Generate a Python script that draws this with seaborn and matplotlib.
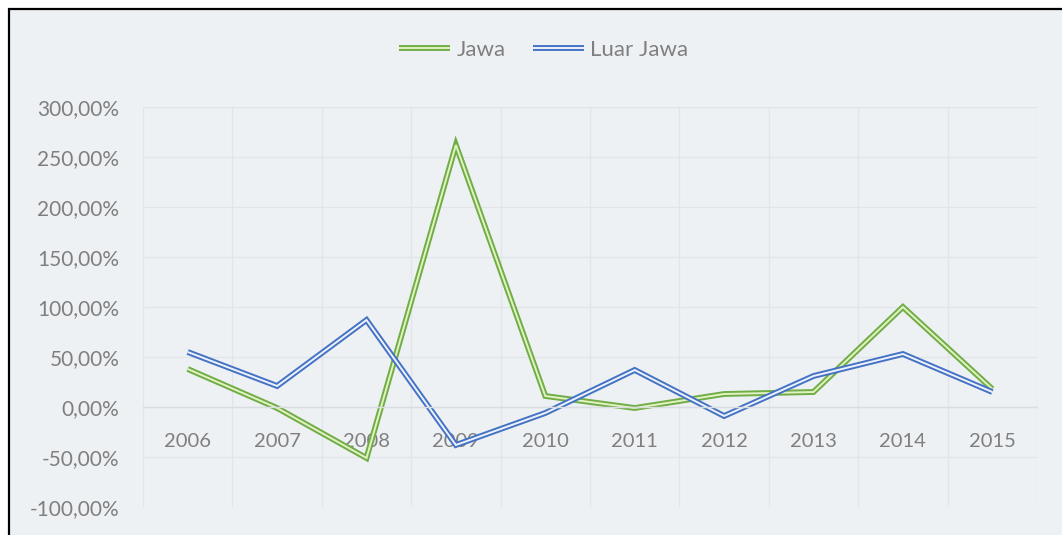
import pandas as pd
import seaborn as sns
import matplotlib.pyplot as plt
import matplotlib.patheffects as pe
from matplotlib.patches import Rectangle
from matplotlib.ticker import FuncFormatter, FixedLocator

years = ['2006', '2007', '2008', '2009', '2010', '2011', '2012', '2013', '2014', '2015']
jawa = [38, -1, -51, 262, 11, -1, 13, 15, 100, 18]
luar_jawa = [55, 21, 87, -38, -6, 37, -9, 31, 53, 15]
series_names = ['Jawa', 'Luar Jawa']

df = pd.DataFrame({
    'year': years * 2,
    'growth': jawa + luar_jawa,
    'region': [series_names[0]] * len(years) + [series_names[1]] * len(years),
})

sns.set_style('white')
plt.rcParams['font.family'] = ['Lato', 'DejaVu Sans']

bg = '#EEF1F4'
grid_c = '#E1E4E8'
text_c = '#7F7F7F'
outer = {'Jawa': '#70AD47', 'Luar Jawa': '#4472C4'}
inner = {'Jawa': '#E2F2C0', 'Luar Jawa': '#EEF2FA'}
lw_out, lw_in = 4.2, 1.4

fig = plt.figure(figsize=(10.62, 5.35), dpi=100, facecolor='white')
fig.patches.append(Rectangle((9 / 1062, -0.05), 1.2, 1 - 9 / 535 + 0.05,
                             transform=fig.transFigure, facecolor=bg,
                             edgecolor='black', linewidth=1.6, zorder=-5))
ax = fig.add_axes([143 / 1062, 1 - 507 / 535, (1037 - 143) / 1062, 400 / 535])
ax.set_facecolor(bg)

sns.lineplot(data=df, x='year', y='growth', hue='region', palette=outer,
             linewidth=lw_out, ax=ax, legend=True, sort=False)

for line, name in zip(ax.get_lines(), series_names):
    line.set_path_effects([pe.Normal(), pe.Stroke(linewidth=lw_in, foreground=inner[name])])
    line.set_solid_joinstyle('miter')
    line.set_solid_capstyle('butt')

ax.set_ylim(-100, 300)
ax.set_xlim(-0.5, len(years) - 0.5)
ax.set_yticks(range(-100, 301, 50))
ax.yaxis.set_major_formatter(FuncFormatter(lambda v, p: f'{v:.2f}%'.replace('.', ',')))
ax.xaxis.set_minor_locator(FixedLocator([i + 0.5 for i in range(-1, len(years))]))

ax.grid(axis='y', color=grid_c, linewidth=0.9)
ax.grid(axis='x', which='minor', color=grid_c, linewidth=0.9)
ax.set_axisbelow(True)

for s in ['top', 'right', 'left']:
    ax.spines[s].set_visible(False)
ax.spines['bottom'].set_position(('data', 0))
ax.spines['bottom'].set_color('#D9DCE0')
ax.spines['bottom'].set_linewidth(1.0)

ax.tick_params(axis='x', which='both', length=0, pad=19, labelsize=14.5, labelcolor=text_c)
ax.tick_params(axis='y', length=0, pad=17, labelsize=15, labelcolor=text_c)
ax.set_xlabel('')
ax.set_ylabel('')

handles, labels = ax.get_legend_handles_labels()
ax.get_legend().remove()
for h, name in zip(handles, labels):
    h.set_linewidth(lw_out)
    h.set_solid_capstyle('butt')
    h.set_path_effects([pe.Normal(), pe.Stroke(linewidth=lw_in, foreground=inner[name])])
fig.legend(handles, labels, loc='center', bbox_to_anchor=(0.512, 1 - 50 / 535), ncol=2,
           frameon=False, fontsize=16, labelcolor=text_c, handlelength=2.3,
           handletextpad=0.3, columnspacing=1.2)

fig.savefig('out.png', dpi=100, facecolor='white')
